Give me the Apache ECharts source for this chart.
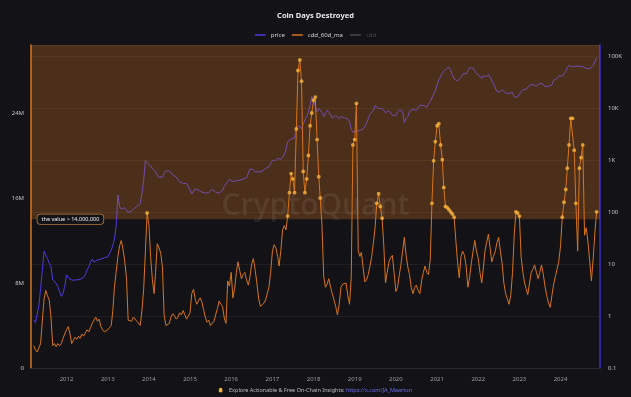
<!DOCTYPE html>
<html><head><meta charset="utf-8">
<script src="https://cdn.jsdelivr.net/npm/echarts@6/dist/echarts.min.js"></script>
<style>html,body{margin:0;padding:0;background:#131317;}#c{width:631px;height:397px;}</style>
</head><body><div id="c"></div>
<script>
// Semi-monthly samples (1st and 16th of each month), first sample 2011-03-16
const firstSample = {year: 2011, month: 3, half: 1};

// cdd_60d_ma, in millions
const cddMillions = [
 2.1,1.7,1.5,1.9,2.3,4.5,6.5,7.3,6.8,6.4,4.8,2.1,2.3,2.0,2.3,2.1,2.3,2.8,3.2,
 3.6,3.9,3.2,2.3,2.6,2.9,2.7,3.0,2.8,3.2,3.0,3.3,3.6,3.4,3.8,4.2,4.5,4.8,4.4,4.6,3.9,3.6,3.4,3.5,
 3.6,3.8,4.0,5.5,7.6,9.0,10.5,11.5,12.0,11.2,10.0,8.5,4.5,4.6,4.4,4.8,4.7,4.4,4.3,4.0,5.5,7.5,11.0,14.6,
 13.5,10.5,8.3,7.0,9.0,11.7,11.3,10.8,9.5,5.0,4.0,3.9,4.2,4.8,5.1,4.9,4.6,4.8,5.2,5.0,5.4,5.0,4.6,4.5,
 5.2,7.0,7.4,6.5,6.0,6.3,6.6,6.2,5.5,4.8,4.3,4.5,4.0,4.1,4.4,5.0,5.6,6.3,6.0,5.8,4.7,4.2,8.2,7.7,
 9.0,6.6,7.5,9.0,10.0,9.2,8.4,8.8,9.0,8.3,7.8,8.6,9.8,10.3,9.2,8.0,6.5,5.8,5.9,6.1,6.4,7.0,7.6,9.0,
 11.0,11.6,11.3,10.5,9.6,11.0,13.0,13.4,13.0,14.3,16.5,18.3,17.8,16.5,22.5,28.0,29.0,27.0,18.5,16.5,17.8,20.0,22.8,24.0,
 25.2,25.5,21.5,18.0,16.0,13.5,8.6,7.6,7.9,8.4,7.6,7.0,6.4,5.8,5.0,6.0,7.6,7.9,8.0,8.0,6.8,6.0,8.5,21.0,
 21.5,24.9,11.0,10.5,10.9,9.5,8.1,8.3,8.8,9.6,10.5,11.8,13.3,15.5,16.4,15.2,14.1,11.5,8.0,9.0,10.0,10.4,10.6,9.0,
 7.2,7.6,8.8,9.8,11.0,12.3,10.6,9.5,8.8,7.6,7.0,7.6,7.8,7.3,7.0,8.2,9.0,9.6,9.0,8.8,10.2,15.5,19.5,21.3,
 22.8,23.0,21.0,19.6,17.0,15.2,15.1,14.9,14.7,14.5,14.2,12.0,10.0,8.5,10.5,11.0,10.6,9.5,7.6,8.5,9.9,11.0,12.0,11.0,
 10.3,9.0,8.0,9.5,11.0,11.8,12.6,11.3,10.0,10.5,11.0,11.8,12.3,11.0,9.8,8.0,7.0,6.5,6.0,6.8,9.0,12.5,14.7,14.6,
 14.3,10.5,9.0,8.0,7.5,6.9,8.0,9.0,9.3,9.7,9.0,8.4,9.0,9.7,8.8,7.7,6.8,6.1,5.7,6.8,7.9,8.6,9.3,10.0,
 11.5,14.2,15.6,16.8,18.8,21.0,23.5,23.5,20.5,15.5,11.0,18.8,19.8,21.0,12.5,13.2,11.8,10.0,8.2,10.2,12.8,14.7
];

// price, USD
const priceUsd = [
 0.84,0.75,0.73,1.6,3.4,7.7,18,15,12.9,10.5,9,5,5.3,4.3,3.7,2.95,2.4,2.75,3.7,
 6.2,6.5,5.1,4.8,4.9,5.0,5.0,5.0,5.1,5.1,5.6,6.3,7.7,8.8,11,12.5,11,11.5,12,11.5,12.5,13,13.3,13.5,
 13.8,15,18.7,23.5,30,53,215,128,115,125,122,110,100,95,105,115,125,130,135,148,232,420,1000,900,
 880,780,700,670,600,525,470,473,480,560,630,620,630,610,524,500,480,431,380,370,360,380,360,330,
 270,225,240,280,260,270,250,245,238,235,232,240,255,275,270,245,232,235,245,265,320,350,380,430,
 420,390,380,410,440,415,420,435,450,460,560,690,680,660,600,580,600,610,620,640,700,740,760,880,
 1000,944,1000,1100,1200,1050,1150,1300,1600,2300,2500,2600,2500,2700,4500,4300,4600,4000,5000,6000,7000,8500,11500,17000,
 14000,11000,8500,10000,10500,8500,7000,8000,9300,8500,7500,6500,6400,7400,7000,6400,7000,6500,6600,6500,6300,5600,4000,3500,
 3700,3600,3500,3800,3900,4000,4200,5200,5500,7800,8300,9200,11500,11000,10000,10500,10000,10200,8300,8200,9200,8500,7400,7200,
 7300,8600,9400,10000,8800,5300,6400,7000,8800,9500,9700,9400,9200,9200,11500,11800,11500,10800,10700,11400,13700,16000,19000,22000,
 29000,36000,34000,48000,47000,57000,59000,62000,55000,45000,37000,38000,34000,32000,40000,46000,48000,47000,48000,61000,63000,60000,57000,47000,
 46000,42000,38000,43000,43000,41000,45000,40000,38000,30000,30000,21000,20000,21000,23000,24000,20000,19800,19500,19000,20500,16500,17000,16800,
 16800,21000,23000,24500,23500,25000,28000,30000,29000,27000,27000,26000,30500,30300,29200,26500,26000,26800,27500,28500,35000,37000,38000,42500,
 44000,42000,43000,52000,62000,68000,69000,63000,60000,66000,68000,65000,62000,64000,62000,59000,58000,59000,62000,67000,70000,96000
];

const seriesNames = ['price', 'cdd_60d_ma', 'cdd'];
const leftAxisLabels = ['0', '8M', '16M', '24M'];
const rightAxisLabels = ['0.1', '1', '10', '100', '1K', '10K', '100K'];
const thresholdValue = 14000000;
const thresholdText = 'the value > 14,000,000';
const xRange = ['2011-02-20', '2024-12-16'];
const leftMax = 30400000;
const rightRange = [0.1, 167500];

function sampleDates(n) {
  const out = [];
  let y = firstSample.year, m = firstSample.month, half = firstSample.half;
  for (let i = 0; i < n; i++) {
    out.push(y + '-' + String(m).padStart(2, '0') + '-' + (half ? '16' : '01'));
    if (half) { half = 0; m++; if (m > 12) { m = 1; y++; } } else { half = 1; }
  }
  return out;
}
const dates = sampleDates(cddMillions.length);
const cddData = dates.map((d, i) => [d, cddMillions[i] * 1e6]);
const priceData = dates.map((d, i) => [d, priceUsd[i]]);

const YEAR = 365.25 * 24 * 3600 * 1000;
const FONT = 'Noto Sans';
const ORANGE = '#d8731b';
const DOT = '#f9b43a';
const chart = echarts.init(document.getElementById('c'), null, {renderer: 'canvas'});

chart.setOption({
  backgroundColor: '#131317',
  animation: false,
  textStyle: {fontFamily: FONT},
  title: {
    text: 'Coin Days Destroyed', left: 'center', top: 7,
    textStyle: {color: '#ececec', fontSize: 7.5, fontWeight: 'bold', fontFamily: FONT}
  },
  legend: {
    top: 27, left: 'center', icon: 'rect', itemWidth: 11, itemHeight: 1.5, itemGap: 7,
    textStyle: {color: '#d4d4d4', fontSize: 6, fontFamily: FONT},
    inactiveColor: '#4a4a4a',
    data: seriesNames,
    selected: {cdd: false}
  },
  grid: {left: 31, right: 31, top: 45, bottom: 29},
  xAxis: {
    type: 'time', min: xRange[0], max: xRange[1],
    minInterval: YEAR * 0.99, maxInterval: YEAR * 1.01,
    axisLine: {lineStyle: {color: '#2c2c30'}},
    axisTick: {show: false},
    splitLine: {show: false},
    axisLabel: {color: '#9c9c9c', fontSize: 6, margin: 8, fontFamily: FONT,
      formatter: v => String(new Date(v).getFullYear())}
  },
  yAxis: [{
    type: 'value', position: 'left', min: 0, max: leftMax, interval: 8000000,
    axisLine: {show: true, lineStyle: {color: ORANGE, width: 1.5}},
    axisTick: {show: false},
    splitLine: {show: false},
    axisLabel: {color: '#c4c4c4', fontSize: 6, margin: 7, showMaxLabel: false, fontFamily: FONT,
      formatter: v => leftAxisLabels[Math.round(v / 8000000)] || ''}
  }, {
    type: 'log', logBase: 10, position: 'right', min: rightRange[0], max: rightRange[1],
    axisLine: {show: true, lineStyle: {color: '#3a2fc8', width: 1.5}},
    axisTick: {show: false},
    splitLine: {show: true, lineStyle: {color: 'rgba(255,255,255,0.055)', width: 1}},
    axisLabel: {color: '#c4c4c4', fontSize: 6, margin: 8, showMaxLabel: false, fontFamily: FONT,
      formatter: v => rightAxisLabels[Math.round(Math.log10(v)) + 1] || ''}
  }],
  series: [{
    name: seriesNames[0], type: 'line', yAxisIndex: 1, z: 0,
    data: priceData, showSymbol: false,
    lineStyle: {color: '#4b3be0', width: 1}, itemStyle: {color: '#4b3be0'}
  }, {
    name: 'zone', type: 'line', yAxisIndex: 0, z: 2, data: [], silent: true,
    markArea: {
      silent: true,
      itemStyle: {color: 'rgba(236,126,34,0.26)'},
      data: [[{yAxis: thresholdValue}, {yAxis: leftMax}]]
    }
  }, {
    name: seriesNames[1], type: 'line', yAxisIndex: 0, z: 4,
    data: cddData, showSymbol: false,
    lineStyle: {width: 1, color: ORANGE},
    itemStyle: {color: ORANGE},
    markPoint: {
      silent: true, symbol: 'circle', symbolSize: 1,
      itemStyle: {color: 'rgba(0,0,0,0)'},
      label: {
        show: true, position: 'right', distance: 6, formatter: thresholdText,
        color: '#f2f2f2', fontSize: 5.5, fontFamily: FONT,
        backgroundColor: '#141418', borderColor: '#b87a3c', borderWidth: 0.8,
        borderRadius: 3, padding: [2, 4, 1.5, 4]
      },
      data: [{coord: [xRange[0], thresholdValue]}]
    }
  }, {
    name: seriesNames[2], type: 'line', yAxisIndex: 0, data: [],
    lineStyle: {color: '#8a8a8a'}, itemStyle: {color: '#8a8a8a'}
  }, {
    name: 'cdd_60d_ma_dots', type: 'scatter', yAxisIndex: 0, z: 5,
    data: cddData.filter(p => p[1] > thresholdValue),
    symbolSize: 3.8, itemStyle: {color: DOT}, silent: true
  }],
  graphic: [{
    type: 'text', left: 'center', top: 191, z: 3, silent: true,
    style: {text: 'CryptoQuant', fill: 'rgba(255,255,255,0.075)', fontSize: 30, fontFamily: 'Open Sans', fontWeight: 600}
  }, {
    type: 'text', left: 'center', top: 384, silent: true,
    style: {
      text: '{bell| }  {t|Explore Actionable & Free On-Chain Insights: }{a|https://x.com/JA_Maartun}',
      rich: {
        bell: {backgroundColor: '#f5b43a', width: 3.5, height: 4.5, borderRadius: [2, 2, 0.5, 0.5]},
        t: {fill: '#bdbdbd', fontSize: 5.5, fontFamily: FONT},
        a: {fill: '#6a6cf0', fontSize: 5.5, fontFamily: FONT, textDecoration: 'underline'}
      }
    }
  }]
});
</script>
</body></html>
